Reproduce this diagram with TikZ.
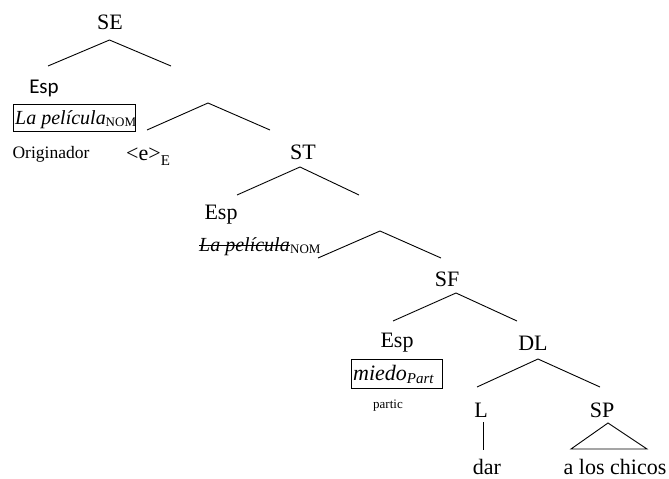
\documentclass[tikz,border=0pt]{standalone}
\usepackage{fontspec}
\setmainfont{Liberation Serif}
\newfontfamily\carlito{Carlito}
\begin{document}
\begin{tikzpicture}[x=1pt,y=-1pt,
  lbl/.style={inner sep=0pt, font=\fontsize{22}{24}\selectfont},
  small/.style={inner sep=0pt, font=\fontsize{17.5}{19}\selectfont},
  tiny/.style={inner sep=0pt, font=\fontsize{13}{14}\selectfont},
  boxed/.style={draw, line width=0.9pt, inner sep=0pt},
  br/.style={line width=0.9pt}]
\useasboundingbox (0,0) rectangle (669,479);
\fill[white] (0,0) rectangle (669,479);
% labels
\node[lbl] (se) at (110,22) {SE};
\node[lbl, font=\carlito\fontsize{21}{23}\selectfont] (esp1) at (44,88) {Esp};
\node[boxed, minimum width=122pt, minimum height=27pt] (box1) at (74,117.5) {};
\node[inner sep=0pt, anchor=base west, font=\fontsize{20}{22}\selectfont] (lp1) at (15,124) {\textit{La película}\raisebox{-2pt}{\fontsize{13}{14}\selectfont NOM}};
\node[small] (orig) at (51,154) {Originador};
\node[inner sep=0pt, anchor=base west, font=\fontsize{22}{24}\selectfont] (e) at (126,160) {<e>\raisebox{-5pt}{\fontsize{15}{16}\selectfont E}};
\node[lbl] (st) at (303,152) {ST};
\node[lbl] (esp2) at (221,215) {Esp};
\node[inner sep=0pt, anchor=base west, font=\fontsize{20}{22}\selectfont] (lp2) at (199,251) {\textit{La película}};
\node[inner sep=0pt, anchor=base west, font=\fontsize{13}{14}\selectfont] (nom2) at ([yshift=-2pt]lp2.base east) {NOM};
\draw[line width=0.9pt] ([yshift=5.5pt]lp2.base west) -- ([yshift=5.5pt]lp2.base east);
\node[lbl] (sf) at (447,279) {SF};
\node[lbl] (esp3) at (397,343) {Esp};
\node[lbl] (dl) at (533,343) {DL};
\node[boxed, minimum width=91pt, minimum height=29pt] (box2) at (396.5,373.5) {};
\node[inner sep=0pt, anchor=base west, font=\fontsize{22}{24}\selectfont] (miedo) at (353,380) {\textit{miedo}\raisebox{-3pt}{\fontsize{15}{16}\selectfont\textit{Part}}};
\node[tiny] (partic) at (388,406) {partic};
\node[lbl] (l) at (481,410) {L};
\node[lbl] (sp) at (602,410) {SP};
\node[lbl] (dar) at (487,467) {dar};
\node[lbl] (alc) at (615,467) {a los chicos};
% branch points
\coordinate (a1) at (109.5,40);
\coordinate (a1l) at (48,66);
\coordinate (a1r) at (171,66);
\coordinate (a2) at (208,103);
\coordinate (a2l) at (147,130);
\coordinate (a2r) at (270,130);
\coordinate (a3) at (300,167);
\coordinate (a3l) at (237,195);
\coordinate (a3r) at (359,195);
\coordinate (a4) at (380,231);
\coordinate (a4l) at (318,258);
\coordinate (a4r) at (441,258);
\coordinate (a5) at (456,293);
\coordinate (a5l) at (393,321);
\coordinate (a5r) at (517,321);
\coordinate (a6) at (538,359);
\coordinate (a6l) at (477,387);
\coordinate (a6r) at (600,387);
\coordinate (v1) at (483,422);
\coordinate (v2) at (483,450);
\coordinate (t1) at (608,423);
\coordinate (t2) at (571,449);
\coordinate (t3) at (647,449);
\foreach \p in {a1,a2,a3,a4,a5,a6}{
  \draw[br] (\p l) -- (\p) -- (\p r);
}
\draw[br] (v1) -- (v2);
\draw[br] (t1) -- (t2) -- (t3) -- cycle;
\end{tikzpicture}
\end{document}
